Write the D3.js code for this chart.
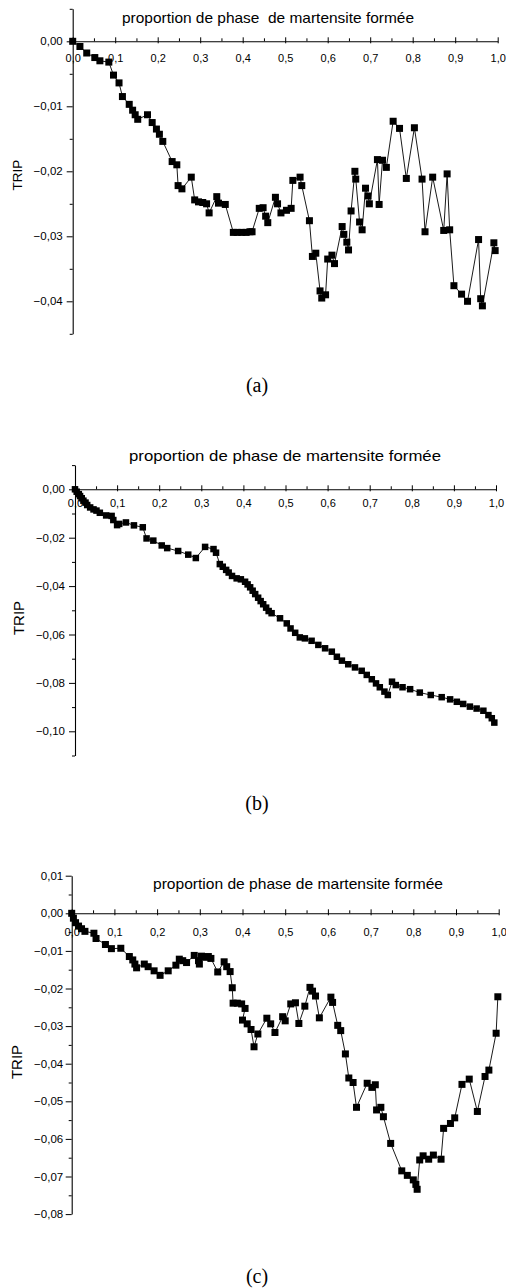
<!DOCTYPE html>
<html>
<head>
<meta charset="utf-8">
<script src="https://cdn.jsdelivr.net/npm/d3@7"></script>
<style>
  body { margin: 0; background: #fff; }
  svg { display: block; }
</style>
</head>
<body>
<div id="chart"></div>
<script>
// x ticks shared by the three panels
const xTickValues = [0, 0.1, 0.2, 0.3, 0.4, 0.5, 0.6, 0.7, 0.8, 0.9, 1.0];
const xTitle = "proportion de phase de martensite formée";
const xTitleA = "proportion de phase  de martensite formée";
const yTitle = "TRIP";

// panel (a)
const fracA = [0, 0.017, 0.033, 0.052, 0.064, 0.085, 0.096, 0.109, 0.117, 0.133, 0.141, 0.147, 0.153,
  0.176, 0.187, 0.197, 0.204, 0.212, 0.234, 0.245, 0.248, 0.257, 0.279, 0.287, 0.296, 0.306, 0.315,
  0.321, 0.339, 0.343, 0.359, 0.378, 0.387, 0.398, 0.408, 0.417, 0.422, 0.439, 0.448, 0.454, 0.459,
  0.477, 0.482, 0.490, 0.503, 0.514, 0.518, 0.535, 0.539, 0.557, 0.564, 0.572, 0.582, 0.586, 0.595,
  0.600, 0.610, 0.616, 0.634, 0.638, 0.645, 0.649, 0.655, 0.664, 0.666, 0.675, 0.681, 0.689, 0.695,
  0.698, 0.717, 0.721, 0.729, 0.738, 0.754, 0.769, 0.785, 0.804, 0.822, 0.829, 0.847, 0.873, 0.881,
  0.887, 0.897, 0.915, 0.929, 0.955, 0.960, 0.964, 0.991, 0.994];
const tripA = [0, -0.0008, -0.0018, -0.0025, -0.003, -0.0032, -0.0052, -0.0064, -0.0085, -0.0097, -0.0106, -0.0113, -0.012,
  -0.0113, -0.0125, -0.0135, -0.0143, -0.0154, -0.0185, -0.019, -0.0222, -0.0227, -0.0209, -0.0244, -0.0247, -0.0248, -0.025,
  -0.0264, -0.0239, -0.0249, -0.0251, -0.0294, -0.0294, -0.0294, -0.0294, -0.0293, -0.0293, -0.0257, -0.0256, -0.0269, -0.0279,
  -0.024, -0.025, -0.0264, -0.026, -0.0257, -0.0214, -0.0209, -0.0222, -0.0276, -0.0331, -0.0326, -0.0384, -0.0395, -0.039,
  -0.0335, -0.0329, -0.0342, -0.0285, -0.0297, -0.0309, -0.0321, -0.0261, -0.020, -0.0212, -0.0278, -0.029, -0.0226, -0.0238,
  -0.025, -0.0182, -0.0251, -0.0183, -0.0194, -0.0123, -0.0134, -0.0211, -0.0133, -0.0212, -0.0293, -0.0209, -0.0291, -0.0204,
  -0.029, -0.0376, -0.0389, -0.04, -0.0305, -0.0396, -0.0407, -0.031, -0.0322];

// panel (b)
const fracB = [0, 0.004, 0.009, 0.012, 0.016, 0.02, 0.025, 0.029, 0.036, 0.044, 0.051, 0.059, 0.074, 0.087,
  0.091, 0.1, 0.105, 0.121, 0.14, 0.161, 0.17, 0.186, 0.206, 0.219, 0.245, 0.269, 0.287, 0.309, 0.329,
  0.335, 0.344, 0.351, 0.359, 0.365, 0.373, 0.384, 0.394, 0.404, 0.41, 0.416, 0.422, 0.428, 0.435, 0.441,
  0.447, 0.454, 0.46, 0.467, 0.487, 0.503, 0.512, 0.523, 0.534, 0.546, 0.562, 0.578, 0.594, 0.61, 0.622,
  0.634, 0.649, 0.665, 0.681, 0.693, 0.705, 0.715, 0.724, 0.735, 0.743, 0.753, 0.762, 0.778, 0.796,
  0.819, 0.845, 0.871, 0.891, 0.907, 0.922, 0.938, 0.954, 0.97, 0.982, 0.99, 0.996];
const tripB = [0, -0.001, -0.002, -0.0028, -0.0037, -0.0047, -0.0055, -0.0065, -0.0075, -0.0083, -0.0088, -0.0097, -0.0108, -0.011,
  -0.0127, -0.0148, -0.0143, -0.0137, -0.0149, -0.0157, -0.0203, -0.0212, -0.0232, -0.0243, -0.0255, -0.027, -0.0284, -0.0238, -0.0247,
  -0.0262, -0.0309, -0.032, -0.0333, -0.0344, -0.0358, -0.0368, -0.0372, -0.0382, -0.0393, -0.0405, -0.0419, -0.0433, -0.0448, -0.0462,
  -0.0475, -0.0489, -0.0503, -0.0512, -0.0533, -0.0554, -0.0575, -0.0593, -0.0612, -0.0616, -0.0626, -0.0643, -0.0657, -0.0671, -0.0692,
  -0.0708, -0.0723, -0.0736, -0.075, -0.0767, -0.0785, -0.0802, -0.0818, -0.0836, -0.085, -0.0795, -0.0809, -0.0818, -0.0826,
  -0.084, -0.085, -0.0859, -0.0868, -0.0878, -0.0887, -0.0898, -0.0906, -0.0915, -0.0933, -0.0946, -0.0964];

// panel (c)
const fracC = [0, 0.004, 0.009, 0.016, 0.023, 0.031, 0.052, 0.057, 0.079, 0.093, 0.115, 0.135, 0.143, 0.148,
  0.152, 0.17, 0.179, 0.193, 0.207, 0.226, 0.244, 0.252, 0.26, 0.269, 0.287, 0.297, 0.299, 0.304, 0.312,
  0.32, 0.326, 0.342, 0.357, 0.363, 0.371, 0.376, 0.378, 0.388, 0.398, 0.406, 0.4, 0.411, 0.42, 0.427,
  0.436, 0.457, 0.466, 0.476, 0.494, 0.5, 0.513, 0.524, 0.532, 0.546, 0.558, 0.564, 0.571, 0.58, 0.607,
  0.611, 0.623, 0.63, 0.641, 0.649, 0.659, 0.667, 0.692, 0.703, 0.711, 0.714, 0.724, 0.73, 0.747, 0.773,
  0.786, 0.8, 0.806, 0.809, 0.815, 0.823, 0.836, 0.847, 0.865, 0.871, 0.887, 0.897, 0.914, 0.931, 0.95,
  0.968, 0.977, 0.994, 0.998];
const tripC = [0, -0.0013, -0.0025, -0.0034, -0.0041, -0.0048, -0.0053, -0.0067, -0.0083, -0.0094, -0.0093, -0.0115, -0.0124, -0.0135,
  -0.0145, -0.0135, -0.0142, -0.0153, -0.0165, -0.0153, -0.0138, -0.0122, -0.0126, -0.0131, -0.0112, -0.0126, -0.0135, -0.0114, -0.0117,
  -0.0115, -0.012, -0.0156, -0.0129, -0.0142, -0.0155, -0.0198, -0.0239, -0.0239, -0.0241, -0.0253, -0.0284, -0.0294, -0.0309, -0.0355,
  -0.0321, -0.0279, -0.0294, -0.0317, -0.0275, -0.0286, -0.0241, -0.0238, -0.0293, -0.0247, -0.0197, -0.0207, -0.022, -0.0278, -0.0223,
  -0.0237, -0.0298, -0.0312, -0.0374, -0.0438, -0.045, -0.0516, -0.0452, -0.0463, -0.0456, -0.0523, -0.0516, -0.0541, -0.0612, -0.0685,
  -0.0697, -0.0709, -0.0721, -0.0734, -0.0656, -0.0645, -0.0654, -0.0643, -0.0654, -0.0572, -0.0559, -0.0544, -0.0455, -0.0441, -0.0527,
  -0.0434, -0.0417, -0.0319, -0.0222];

// layout of each panel in the page
const panels = [
  { frac: fracA, trip: tripA, title: xTitleA, caption: "(a)",
    x0: 72.7, x1: 497.7, yTop: 8.8, yBot: 333.8, yDomain: [-0.045, 0.005], yStep: 0.01,
    titleX: [122, 414], titleY: 23, xLabDy: 21.5, yLabGap: 10, tripX: 17, tripY: 175, tripSize: 13.5,
    capY: 392, mark: 7 },
  { frac: fracB, trip: tripB, title: xTitle, caption: "(b)",
    x0: 75, x1: 496, yTop: 465.1, yBot: 755.5, yDomain: [-0.11, 0.01], yStep: 0.02,
    titleX: [129, 441], titleY: 461, xLabDy: 18.5, yLabGap: 10, tripX: 19, tripY: 618, tripSize: 15,
    capY: 810, mark: 6.5 },
  { frac: fracC, trip: tripC, title: xTitle, caption: "(c)",
    x0: 71.7, x1: 498.7, yTop: 875.7, yBot: 1214.1, yDomain: [-0.08, 0.01], yStep: 0.01,
    titleX: [153, 443], titleY: 889, xLabDy: 23.5, yLabGap: 8.5, tripX: 17, tripY: 1062, tripSize: 15,
    capY: 1283, mark: 7 }
];

const W = 506, H = 1288;
const svg = d3.select("#chart").append("svg")
  .attr("width", W)
  .attr("height", H)
  .style("font-family", "'Liberation Sans', Arial, sans-serif");

const comma = v => v.replace(".", ",");

panels.forEach(p => {
  const g = svg.append("g");

  const x = d3.scaleLinear().domain([0, 1]).range([p.x0, p.x1]);
  const y = d3.scaleLinear().domain(p.yDomain).range([p.yBot, p.yTop]);
  const y0 = y(0);

  // y ticks: majors with labels + minors in between
  const yMajor = d3.range(Math.round(p.yDomain[1] / p.yStep), Math.round(p.yDomain[0] / p.yStep) - 1, -1)
    .map(k => +(k * p.yStep).toFixed(4))
    .filter(v => v >= p.yDomain[0] - 1e-9 && v <= p.yDomain[1] + 1e-9);
  const yMinor = d3.range(Math.round(p.yDomain[1] / (p.yStep / 2)), Math.round(p.yDomain[0] / (p.yStep / 2)) - 1, -1)
    .map(k => +(k * p.yStep / 2).toFixed(4))
    .filter(v => !yMajor.some(m => Math.abs(m - v) < 1e-9));

  const yAxis = g.append("g")
    .attr("transform", `translate(${p.x0},0)`)
    .call(d3.axisLeft(y).tickValues(yMajor).tickSize(6).tickSizeOuter(0).tickPadding(p.yLabGap - 6)
      .tickFormat(v => comma(d3.format(".2f")(v))));
  yAxis.select(".domain").attr("stroke", "#000").attr("stroke-width", 1.1);
  yAxis.selectAll("text").attr("font-size", 11.5).attr("fill", "#000").attr("font-family", "'Liberation Sans', Arial, sans-serif");

  g.append("g")
    .attr("transform", `translate(${p.x0},0)`)
    .call(d3.axisLeft(y).tickValues(yMinor).tickSize(3).tickFormat(""))
    .call(a => a.select(".domain").remove());

  // x axis sits on TRIP = 0, ticks cross it, labels below
  const xMinor = d3.range(0.05, 1, 0.1);
  const xAxis = g.append("g")
    .attr("transform", `translate(0,${y0})`)
    .call(d3.axisBottom(x).tickValues(xTickValues).tickSize(-5).tickSizeOuter(0).tickPadding(p.xLabDy - 9)
      .tickFormat(v => comma(d3.format(".1f")(v))));
  xAxis.select(".domain").attr("stroke", "#000").attr("stroke-width", 1.1);
  xAxis.selectAll("text").attr("font-size", 11).attr("fill", "#000").attr("font-family", "'Liberation Sans', Arial, sans-serif");
  xAxis.selectAll(".tick line").attr("y2", -4).attr("y1", 2);

  g.append("g")
    .attr("transform", `translate(0,${y0})`)
    .call(d3.axisBottom(x).tickValues(xMinor).tickSize(-3).tickFormat(""))
    .call(a => a.select(".domain").remove());

  // x title above the axis
  g.append("text")
    .attr("x", p.titleX[0])
    .attr("y", p.titleY)
    .attr("font-size", 14.5)
    .attr("textLength", p.titleX[1] - p.titleX[0])
    .attr("lengthAdjust", "spacingAndGlyphs")
    .style("white-space", "pre")
    .text(p.title);

  // y title
  g.append("text")
    .attr("transform", `translate(${p.tripX + p.tripSize * 0.36},${p.tripY}) rotate(-90)`)
    .attr("text-anchor", "middle")
    .attr("font-size", p.tripSize)
    .text(yTitle);

  // series: thin line + filled squares
  const pts = p.frac.map((f, i) => [f, p.trip[i]]);
  g.append("path")
    .datum(pts)
    .attr("fill", "none")
    .attr("stroke", "#000")
    .attr("stroke-width", 0.9)
    .attr("d", d3.line().x(d => x(d[0])).y(d => y(d[1])));

  g.append("g")
    .selectAll("rect")
    .data(pts)
    .join("rect")
      .attr("x", d => x(d[0]) - p.mark / 2)
      .attr("y", d => y(d[1]) - p.mark / 2)
      .attr("width", p.mark)
      .attr("height", p.mark)
      .attr("fill", "#000");

  // caption
  g.append("text")
    .attr("x", 257)
    .attr("y", p.capY)
    .attr("text-anchor", "middle")
    .attr("font-family", "'Liberation Serif', 'Times New Roman', serif")
    .attr("font-size", 20)
    .text(p.caption);
});
</script>
</body>
</html>
